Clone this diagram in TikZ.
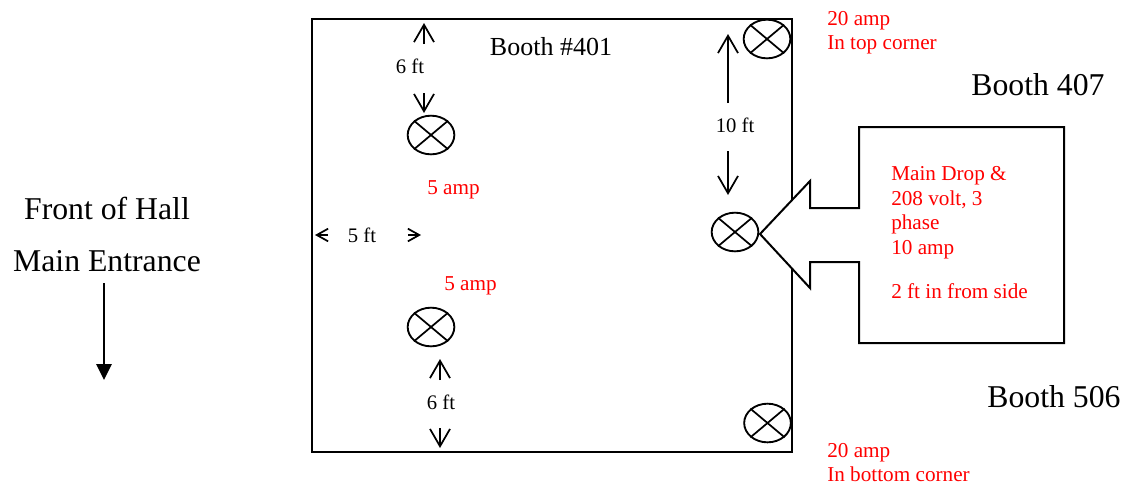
\documentclass[tikz,border=0pt]{standalone}
\usepackage{fontspec}
\setmainfont{Liberation Serif}
\usetikzlibrary{arrows.meta,shapes.geometric}
\definecolor{notered}{RGB}{255,0,0}
\tikzset{
  wall/.style={line width=1.5pt},
  lamp/.style={draw,ellipse,line width=1.4pt,minimum width=35pt,minimum height=29pt,inner sep=0pt},
  dimarrow/.style={line width=1.3pt,-{Straight Barb[length=13pt,width=15pt,line width=1.3pt]}},
  stubarrow/.style={line width=1.3pt,-{Straight Barb[length=8.5pt,width=9.5pt,line width=1.3pt]}},
  dimtext/.style={font=\fontsize{15.5pt}{18pt}\selectfont,inner sep=0pt},
  redtext/.style={text=notered,font=\fontsize{15.9pt}{18pt}\selectfont,inner sep=0pt,align=left,anchor=north west},
  bigtext/.style={font=\fontsize{23.8pt}{28pt}\selectfont,inner sep=0pt}
}
\begin{document}
\begin{tikzpicture}[x=0.75pt,y=-0.75pt]
  \useasboundingbox (0,0) rectangle (1126,483);
  % booth outline
  \draw[wall] (312,19) rectangle (792,452);
  % main drop box
  \draw[wall,fill=white,line join=miter] (760,234) -- (810,181) -- (810,208) -- (859,208) -- (859,127)
    -- (1064,127) -- (1064,343) -- (859,343) -- (859,262) -- (810,262) -- (810,288) -- cycle;
  % lamps (name/x/y)
  \foreach \name/\x/\y in {lampA/431/135,lampB/431/327,lampC/767/39,lampD/735/232,lampE/767.5/423}
  {
    \node[lamp] (\name) at (\x,\y) {};
    \draw[line width=1.3pt] (\name.40) -- (\name.220);
    \draw[line width=1.3pt] (\name.140) -- (\name.320);
  }
  % dimension arrows (name/from/to)
  \foreach \name/\xa/\ya/\xb/\yb in {
    sixA/424/44/424/23,
    sixB/424/93/424/113,
    tenA/728/103/728/34,
    tenB/728/151/728/195,
    sixC/440/380/440/359,
    sixD/440/428/440/448}
  {
    \coordinate (\name from) at (\xa,\ya);
    \coordinate (\name to) at (\xb,\yb);
    \draw[dimarrow] (\name from) -- (\name to);
  }
  % short arrows either side of 5 ft
  \coordinate (fiveAfrom) at (328,235);
  \coordinate (fiveAto) at (315,235);
  \coordinate (fiveBfrom) at (408,235);
  \coordinate (fiveBto) at (421,235);
  \draw[stubarrow] (fiveAfrom) -- (fiveAto);
  \draw[stubarrow] (fiveBfrom) -- (fiveBto);
  % entrance arrow
  \coordinate (entryfrom) at (104,283);
  \coordinate (entryto) at (104,380);
  \draw[line width=1.3pt,-{Triangle[length=12pt,width=11.5pt]}] (entryfrom) -- (entryto);
  % black labels
  \node[dimtext] (dimsixA) at (410,66) {6 ft};
  \node[dimtext] (dimten) at (735,125) {10 ft};
  \node[dimtext] (dimfive) at (362,235) {5 ft};
  \node[dimtext] (dimsixB) at (441,402) {6 ft};
  \node[font=\fontsize{19.5pt}{24pt}\selectfont,inner sep=0pt] (title) at (551,47) {Booth \#401};
  \node[bigtext] (front) at (107,208) {Front of Hall};
  \node[bigtext] (entrance) at (107,261) {Main Entrance};
  \node[bigtext] (boothA) at (1038,85) {Booth 407};
  \node[bigtext] (boothB) at (1054,397) {Booth 506};
  % red labels
  \node[redtext] (topnote) at (827,11) {20 amp\\In top corner};
  \node[redtext,text depth=0pt] (botnote) at (827,443) {20 amp\\In bottom corner};
  \node[redtext] (ampA) at (427,180) {5 amp};
  \node[redtext] (ampB) at (444,276) {5 amp};
  \node[redtext,font=\fontsize{15.9pt}{18.5pt}\selectfont] (dropnote) at (891,166) {Main Drop \&\\208 volt, 3\\phase\\10 amp};
  \node[redtext] (sidenote) at (891,283) {2 ft in from side};
\end{tikzpicture}
\end{document}
